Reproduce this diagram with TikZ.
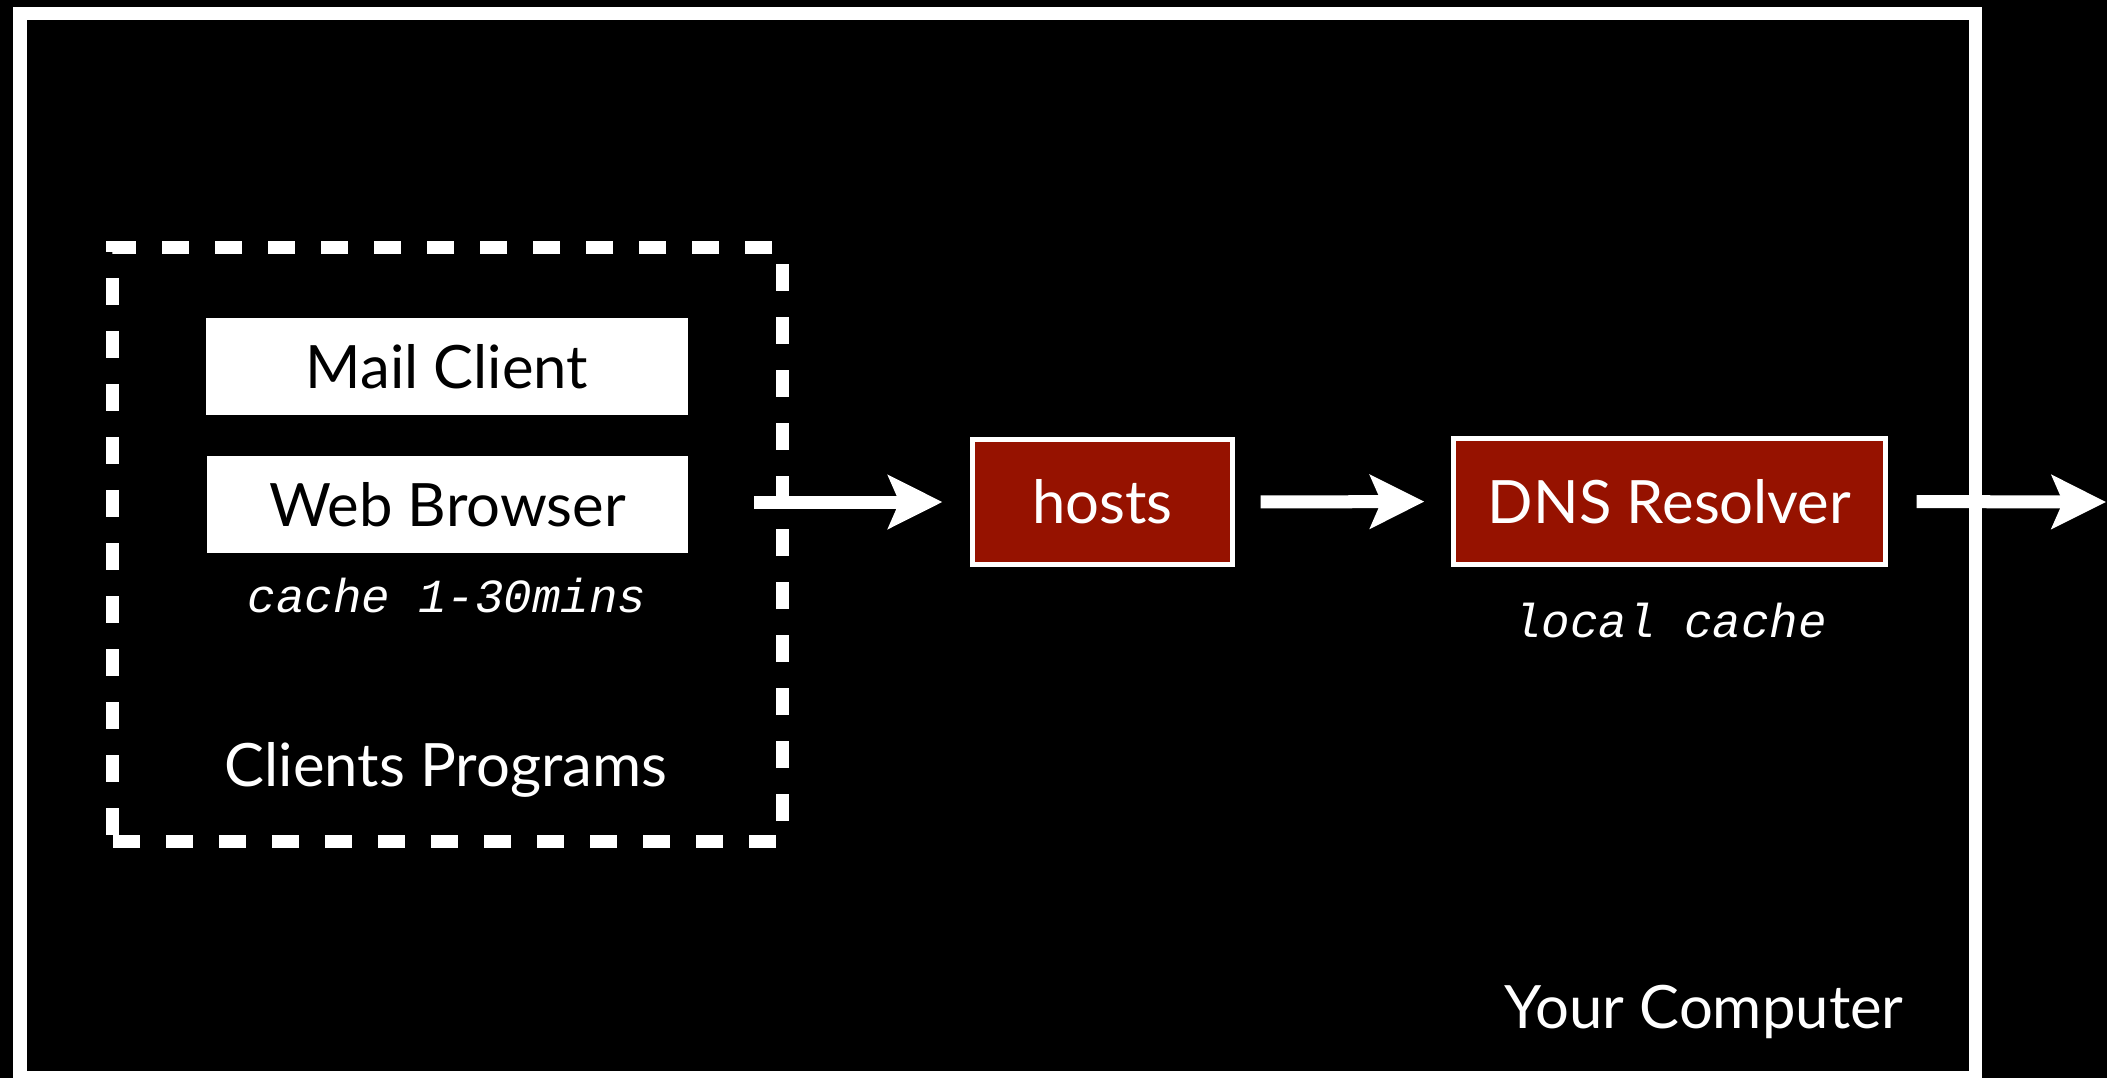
\documentclass[tikz,border=0pt]{standalone}
\usepackage{fontspec}
\setmainfont{Lato}
\newfontfamily\notefont{Liberation Mono}
\usetikzlibrary{arrows.meta}
\definecolor{hostred}{RGB}{150,18,0}

\begin{document}
\begin{tikzpicture}[
    x=0.01cm, y=-0.01cm,
    every node/.style={inner sep=0pt, outer sep=0pt, font=\fontsize{17}{20}\selectfont},
    frame/.style={draw=white, line width=0.13cm},
    groupbox/.style={draw=white, line width=0.13cm, dash pattern=on 0.27cm off 0.26cm, minimum width=6.69cm, minimum height=5.93cm},
    appbox/.style={fill=white, text=black, minimum width=4.81cm, minimum height=0.96cm},
    redbox/.style={fill=hostred, draw=white, line width=0.05cm, text=white, minimum height=1.25cm},
    note/.style={text=white, anchor=base, font=\notefont\itshape\fontsize{13.5}{16}\selectfont},
    boxtitle/.style={text=white, anchor=base},
    flow/.style={draw=white, line width=0.13cm, -{Stealth[length=0.54cm, width=0.53cm, inset=0.11cm]}}
    ]
    \useasboundingbox (0,0) rectangle (2107,1078);
    \fill[black] (0,0) rectangle (2107,1078);
    \draw[frame] (20,13.5) rectangle (1975.5,1077.5);
    % clients on the left
    \node[groupbox] (clients) at (447.5,544.5) {};
    \node[appbox] (mail) at (447,366.5) {Mail Client};
    \node[appbox] (web) at (447.5,504.5) {Web Browser};
    \node[note] (webcache) at (447,612) {cache 1-30mins};
    \node[boxtitle] (clientstitle) at (446,786) {Clients Programs};
    % lookup chain
    \node[redbox, minimum width=2.6cm] (hosts) at (1102.5,502) {hosts};
    \node[redbox, minimum width=4.32cm] (resolver) at (1669.5,501.5) {DNS Resolver};
    \node[note] (localcache) at (1670,637) {local cache};
    \node[boxtitle] (computer) at (1704,1028) {Your Computer};
    \coordinate (out) at (2106,502);
    \draw[flow, shorten <=-0.28cm, shorten >=0.30cm] (clients.east |- hosts.west) -- (hosts.west);
    \draw[flow, shorten <=0.28cm, shorten >=0.29cm] (hosts.east) -- (resolver.west);
    \draw[flow, shorten <=0.31cm] (resolver.east) -- (out);
\end{tikzpicture}
\end{document}
